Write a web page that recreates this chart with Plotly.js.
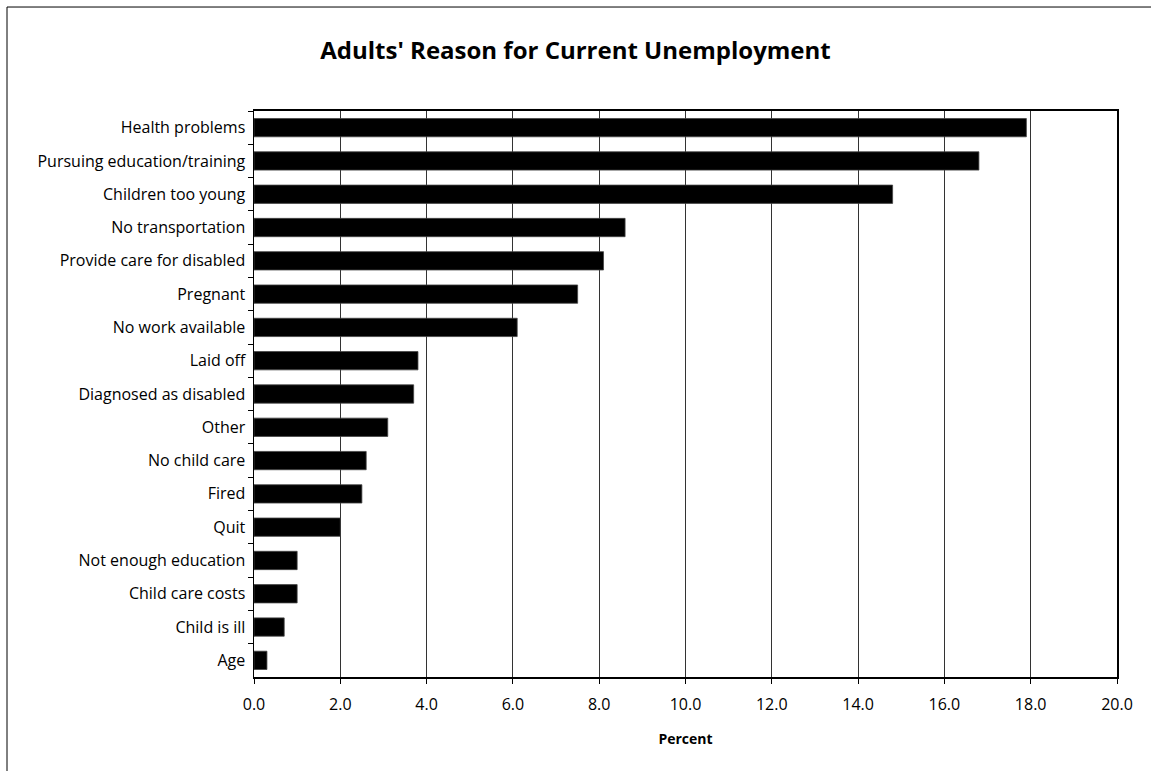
<!DOCTYPE html>
<html>
<head>
<meta charset="utf-8">
<script src="https://cdn.plot.ly/plotly-3.0.1.min.js"></script>
<style>
html,body{margin:0;padding:0;background:#fff;}
#chart{width:1151px;height:771px;}
</style>
</head>
<body>
<div id="chart"></div>
<script>
const categories = [
  "Health problems",
  "Pursuing education/training",
  "Children too young",
  "No transportation",
  "Provide care for disabled",
  "Pregnant",
  "No work available",
  "Laid off",
  "Diagnosed as disabled",
  "Other",
  "No child care",
  "Fired",
  "Quit",
  "Not enough education",
  "Child care costs",
  "Child is ill",
  "Age"
];
const percentValues = [17.9, 16.8, 14.8, 8.6, 8.1, 7.5, 6.1, 3.8, 3.7, 3.1, 2.6, 2.5, 2.0, 1.0, 1.0, 0.7, 0.3];
const xTickValues = [0, 2, 4, 6, 8, 10, 12, 14, 16, 18, 20];
const xTickLabels = ["0.0", "2.0", "4.0", "6.0", "8.0", "10.0", "12.0", "14.0", "16.0", "18.0", "20.0"];

const FONT = "'Open Sans', 'Noto Sans', 'DejaVu Sans', sans-serif";

const trace = {
  type: "bar",
  orientation: "h",
  x: percentValues,
  y: categories,
  marker: {color: "#000000", line: {color: "#444444", width: 0.8}},
  hoverinfo: "x+y"
};

const layout = {
  width: 1151,
  height: 771,
  margin: {l: 254, r: 34, t: 111, b: 94},
  paper_bgcolor: "#ffffff",
  plot_bgcolor: "#ffffff",
  font: {family: FONT, color: "#000000", size: 16},
  title: {
    text: "<b>Adults' Reason for Current Unemployment</b>",
    font: {family: FONT, size: 24, color: "#000000"},
    x: 0.5, xref: "container", xanchor: "center",
    y: 0.935, yref: "container", yanchor: "middle"
  },
  bargap: 0.45,
  showlegend: false,
  xaxis: {
    range: [0, 20],
    tickvals: xTickValues,
    ticktext: xTickLabels,
    ticks: "outside",
    ticklen: 5,
    tickcolor: "#000000",
    ticklabelstandoff: 7,
    tickfont: {family: FONT, size: 16, color: "#000000"},
    showgrid: true,
    gridcolor: "#333333",
    gridwidth: 1,
    showline: true,
    linecolor: "#000000",
    linewidth: 2,
    mirror: true,
    zeroline: false,
    fixedrange: true,
    title: {text: "<b>Percent</b>", font: {family: FONT, size: 14, color: "#000000"}, standoff: 20}
  },
  yaxis: {
    autorange: "reversed",
    type: "category",
    ticks: "outside",
    tickson: "boundaries",
    ticklen: 5,
    tickcolor: "#000000",
    ticklabelstandoff: 4,
    tickfont: {family: FONT, size: 16, color: "#000000"},
    showgrid: false,
    showline: true,
    linecolor: "#000000",
    linewidth: 1.5,
    mirror: true,
    zeroline: false,
    fixedrange: true
  },
  shapes: [
    {type: "line", xref: "paper", yref: "paper", x0: -0.2862, x1: 1.1, y0: 1.1837, y1: 1.1837, line: {color: "#000000", width: 1}},
    {type: "line", xref: "paper", yref: "paper", x0: -0.2862, x1: -0.2862, y0: 1.1837, y1: -0.3, line: {color: "#000000", width: 1}}
  ]
};

Plotly.newPlot("chart", [trace], layout, {displayModeBar: false, staticPlot: true});
</script>
</body>
</html>
